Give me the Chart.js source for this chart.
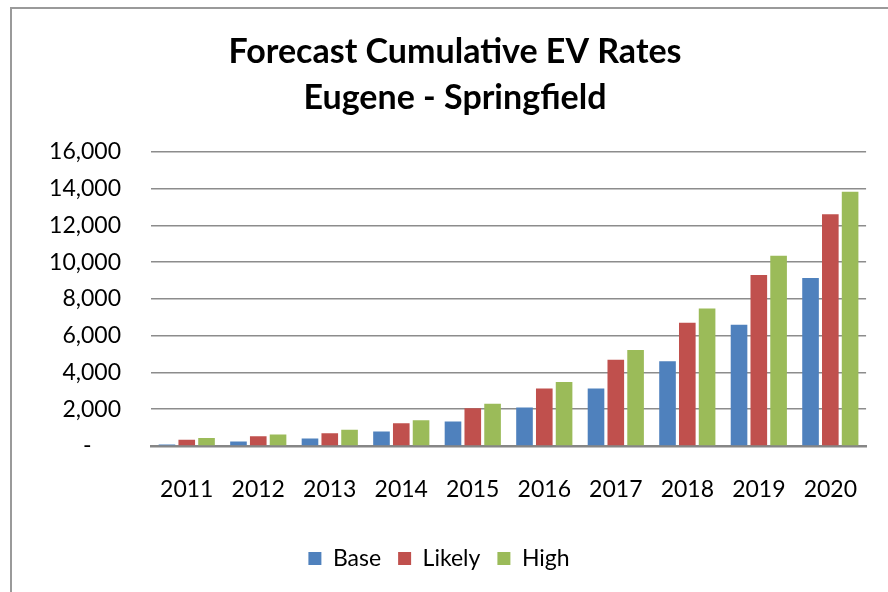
<!DOCTYPE html>
<html>
<head>
<meta charset="utf-8">
<script src="https://cdn.jsdelivr.net/npm/chart.js@4"></script>
<style>
  html, body { margin: 0; padding: 0; background: #fff; overflow: hidden; }
  #wrap { position: relative; width: 888px; height: 592px; }
  #frame { position: absolute; left: 10px; top: 7px; width: 900px; height: 620px; border: 2px solid #9a9a9a; box-sizing: border-box; }
  canvas { position: absolute; left: 0; top: 0; }
</style>
</head>
<body>
<div id="wrap">
  <div id="frame"></div>
  <canvas id="c" width="888" height="592"></canvas>
</div>
<script>
const categories = ['2011','2012','2013','2014','2015','2016','2017','2018','2019','2020'];
const baseValues   = [75, 245, 410, 785, 1330, 2100, 3130, 4615, 6600, 9140];
const likelyValues = [340, 525, 690, 1235, 2055, 3130, 4690, 6700, 9300, 12600];
const highValues   = [430, 620, 880, 1400, 2300, 3475, 5215, 7475, 10350, 13830];
const yTicks = [0, 2000, 4000, 6000, 8000, 10000, 12000, 14000, 16000];
const titleLines = ['Forecast Cumulative EV Rates', 'Eugene - Springfield'];

const FONT = 'Lato, "Open Sans", sans-serif';

const shiftBlocks = {
  id: 'shiftBlocks',
  afterLayout(chart) {
    const lg = chart.legend;
    if (lg) { lg.left += 5; lg.right += 5; }
    const tb = chart.titleBlock;
    if (tb) { tb.left += 21; tb.right += 21; }
  }
};

new Chart(document.getElementById('c'), {
  type: 'bar',
  data: {
    labels: categories,
    datasets: [
      { label: 'Base', data: baseValues, backgroundColor: '#4F81BD' },
      { label: 'Likely', data: likelyValues, backgroundColor: '#C0504D' },
      { label: 'High', data: highValues, backgroundColor: '#9BBB59' }
    ]
  },
  plugins: [shiftBlocks],
  options: {
    responsive: false,
    animation: false,
    devicePixelRatio: 1,
    layout: { padding: { top: 10, left: 0, right: 20, bottom: 12 } },
    datasets: { bar: { categoryPercentage: 0.83, barPercentage: 0.84 } },
    plugins: {
      title: {
        display: true,
        text: titleLines,
        color: '#000',
        font: { family: FONT, size: 34, weight: 'bold', lineHeight: 1.35 },
        padding: { top: 19, bottom: 31 }
      },
      legend: {
        position: 'bottom',
        labels: {
          color: '#000',
          font: { family: FONT, size: 23 },
          boxWidth: 13,
          boxHeight: 13,
          padding: 17
        }
      },
      tooltip: { enabled: false }
    },
    scales: {
      x: {
        grid: { display: false, drawTicks: false },
        border: { display: true, color: '#868686', width: 2.5 },
        ticks: { color: '#000', font: { family: FONT, size: 23 }, padding: 30, maxRotation: 0 },
        afterFit: (s) => { s.height = 84; }
      },
      y: {
        min: 0,
        max: 16000,
        afterBuildTicks: (s) => { s.ticks = yTicks.map(v => ({ value: v })); },
        grid: { color: '#8c8c8c', lineWidth: 1.5, drawTicks: false },
        border: { display: false },
        ticks: {
          color: '#000',
          font: { family: FONT, size: 23 },
          padding: 30,
          callback: (v) => v === 0 ? '-     ' : Number(v).toLocaleString('en-US')
        },
        afterFit: (s) => { s.width = 151; }
      }
    }
  }
});
</script>
</body>
</html>
